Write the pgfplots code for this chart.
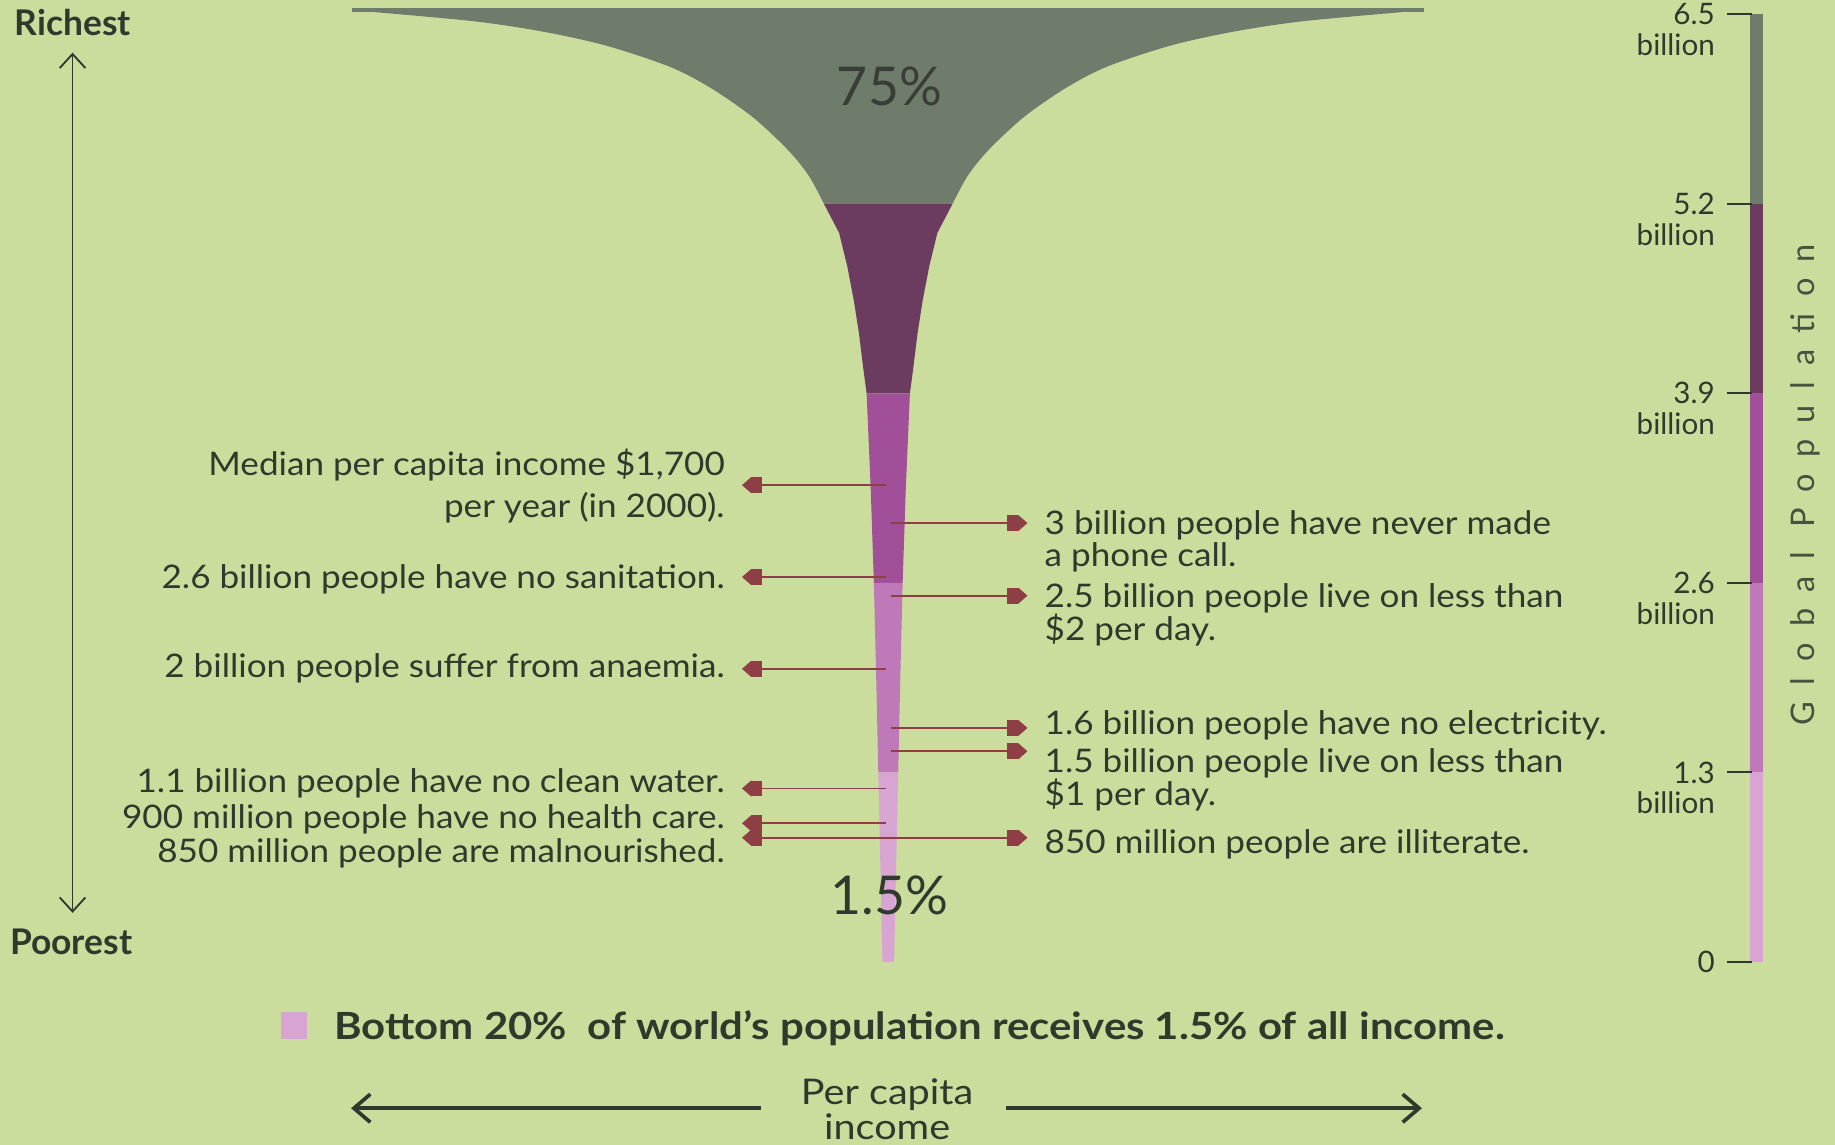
\documentclass[border=0pt]{standalone}
\usepackage{fontspec}
\setmainfont{Lato}
\newfontfamily\labfont[FakeStretch=1.08]{Lato}
\newfontfamily\bigfont[FakeStretch=1.12]{Lato}
\usepackage{pgfplots}
\pgfplotsset{compat=1.18}
\usepgfplotslibrary{fillbetween}
\usetikzlibrary{arrows.meta}
\definecolor{bg}{HTML}{CBDD9D}
\definecolor{cA}{HTML}{6F7B6B}
\definecolor{cB}{HTML}{6B3C60}
\definecolor{cC}{HTML}{A04F98}
\definecolor{cD}{HTML}{C079B8}
\definecolor{cE}{HTML}{D8A4D2}
\definecolor{txt}{HTML}{2E3A2C}
\definecolor{arr}{HTML}{8E3E45}
\tikzset{
  lab/.style={font=\labfont\fontsize{7.9}{8}\selectfont, text=txt, inner sep=0pt},
  ax/.style={font=\fontsize{7.2}{8}\selectfont, text=txt, inner sep=0pt},
  house/.style={draw=arr, line width=0.45pt, -{Square[length=0.95mm,width=1.35mm,sep=0pt]Triangle[length=0.8mm,width=1.35mm]}},
  house2/.style={draw=arr, line width=0.45pt, {Triangle[length=0.8mm,width=1.35mm,sep=0pt]Square[length=0.95mm,width=1.35mm]}-{Square[length=0.95mm,width=1.35mm,sep=0pt]Triangle[length=0.8mm,width=1.35mm]}},
}
\begin{document}
\begin{tikzpicture}
\begin{axis}[
  width=156.8mm, height=97.8mm, scale only axis,
  xmin=0, xmax=1568, ymin=-1.252, ymax=6.597,
  axis line style={draw=none}, xtick=\empty, ytick=\empty,
  axis background/.style={fill=bg},
  clip=false,
]
\coordinate (bl) at (rel axis cs:0,0);
\coordinate (tr) at (rel axis cs:1,1);
% richest 20%: 75% of income (population 5.2 to 6.5 billion)
\addplot[name path=L, draw=none, smooth] coordinates {
 (301,6.527) (403,6.453) (464,6.380) (518,6.284) (572,6.140) (607,5.995)
 (643,5.795) (673,5.571) (691,5.393) (704,5.2)};
\addplot[name path=R, draw=none, smooth] coordinates {
 (814,5.2) (827,5.393) (845,5.571) (875,5.795) (911,5.995) (946,6.140)
 (1000,6.284) (1054,6.380) (1115,6.453) (1217,6.527)};
\addplot[fill=cA, draw=none] fill between[of=L and R, reverse=false];
\addplot[fill=cA, draw=none] coordinates {(301,6.512) (1217,6.512) (1217,6.541) (301,6.541)} --cycle;
% 3.9 to 5.2 billion
\addplot[fill=cB, draw=none] coordinates {
 (704,5.2) (814,5.2) (801,5.0) (794,4.77) (788.5,4.54) (784,4.31) (780.5,4.08) (777.5,3.9)
 (740.5,3.9) (737.5,4.08) (734,4.31) (729.5,4.54) (724,4.77) (717,5.0)} --cycle;
% 2.6 to 3.9 billion
\addplot[fill=cC, draw=none] coordinates {
 (740.5,3.9) (777.5,3.9) (774,3.25) (771.3,2.6) (746.7,2.6) (744,3.25)} --cycle;
% 1.3 to 2.6 billion
\addplot[fill=cD, draw=none] coordinates {
 (746.7,2.6) (771.3,2.6) (769.3,1.95) (767.5,1.3) (750.5,1.3) (748.7,1.95)} --cycle;
% poorest 20%: 1.5% of income
\addplot[fill=cE, draw=none] coordinates {
 (750.5,1.3) (767.5,1.3) (765.7,0.65) (764,0) (754,0) (752.3,0.65)} --cycle;

% left annotations
\addplot[house] coordinates {(757,3.27) (634,3.27)};
\addplot[house] coordinates {(757,2.64) (634,2.64)};
\addplot[house] coordinates {(757,2.01) (634,2.01)};
\addplot[house] coordinates {(757,1.19) (634,1.19)};
\addplot[house] coordinates {(757,0.951) (634,0.951)};
\addplot[house2] coordinates {(634,0.852) (878,0.852)};
% right annotations
\addplot[house] coordinates {(761,3.01) (878,3.01)};
\addplot[house] coordinates {(761,2.512) (878,2.512)};
\addplot[house] coordinates {(761,1.605) (878,1.605)};
\addplot[house] coordinates {(761,1.445) (878,1.445)};

\node[lab, anchor=base east] at (axis cs:620,3.339) {Median per capita income \$1,700};
\node[lab, anchor=base east] at (axis cs:620,3.050) {per year (in 2000).};
\node[lab, anchor=base east] at (axis cs:620,2.560) {2.6 billion people have no sanitation.};
\node[lab, anchor=base east] at (axis cs:620,1.950) {2 billion people suffer from anaemia.};
\node[lab, anchor=base east] at (axis cs:620,1.164) {1.1 billion people have no clean water.};
\node[lab, anchor=base east] at (axis cs:620,0.915) {900 million people have no health care.};
\node[lab, anchor=base east] at (axis cs:620,0.682) {850 million people are malnourished.};

\node[lab, anchor=base west] at (axis cs:892,2.929) {3 billion people have never made};
\node[lab, anchor=base west] at (axis cs:892,2.713) {a phone call.};
\node[lab, anchor=base west] at (axis cs:892,2.432) {2.5 billion people live on less than};
\node[lab, anchor=base west] at (axis cs:892,2.207) {\$2 per day.};
\node[lab, anchor=base west] at (axis cs:892,1.557) {1.6 billion people have no electricity.};
\node[lab, anchor=base west] at (axis cs:892,1.300) {1.5 billion people live on less than};
\node[lab, anchor=base west] at (axis cs:892,1.075) {\$1 per day.};
\node[lab, anchor=base west] at (axis cs:892,0.746) {850 million people are illiterate.};

% shares
\node[font=\fontsize{13}{14}\selectfont, text=cA!50!black, anchor=base, inner sep=0pt] at (axis cs:760,5.875) {75\%};
\node[font=\fontsize{13}{14}\selectfont, text=txt, anchor=base, inner sep=0pt] at (axis cs:760,0.329) {1.5\%};

% richest / poorest
\node[font=\fontsize{8.6}{9}\selectfont\bfseries, text=txt, anchor=base west, inner sep=0pt] at (axis cs:12,6.356) {Richest};
\node[font=\fontsize{8.6}{9}\selectfont\bfseries, text=txt, anchor=base west, inner sep=0pt] at (axis cs:8,0.048) {Poorest};
\addplot[draw=txt, line width=0.45pt, {Straight Barb[length=1.2mm,width=2.2mm]}-{Straight Barb[length=1.2mm,width=2.2mm]}] coordinates {(62,6.236) (62,0.337)};

% global population axis
\addplot[draw=cA, line width=1.05mm] coordinates {(1501,6.5) (1501,5.2)};
\addplot[draw=cB, line width=1.05mm] coordinates {(1501,5.2) (1501,3.9)};
\addplot[draw=cC, line width=1.05mm] coordinates {(1501,3.9) (1501,2.6)};
\addplot[draw=cD, line width=1.05mm] coordinates {(1501,2.6) (1501,1.3)};
\addplot[draw=cE, line width=1.05mm] coordinates {(1501,1.3) (1501,0)};
\pgfplotsinvokeforeach{0,1.3,2.6,3.9,5.2,6.5}{
  \addplot[draw=txt, line width=0.5pt] coordinates {(1476,#1) (1497,#1)};
}
\node[ax, anchor=east] at (axis cs:1466,6.5) {6.5};
\node[ax, anchor=east] at (axis cs:1466,6.29) {billion};
\node[ax, anchor=east] at (axis cs:1466,5.2) {5.2};
\node[ax, anchor=east] at (axis cs:1466,4.99) {billion};
\node[ax, anchor=east] at (axis cs:1466,3.9) {3.9};
\node[ax, anchor=east] at (axis cs:1466,3.69) {billion};
\node[ax, anchor=east] at (axis cs:1466,2.6) {2.6};
\node[ax, anchor=east] at (axis cs:1466,2.39) {billion};
\node[ax, anchor=east] at (axis cs:1466,1.3) {1.3};
\node[ax, anchor=east] at (axis cs:1466,1.09) {billion};
\node[ax, anchor=east] at (axis cs:1466,0) {0};
\node[font=\fontsize{7.9}{8}\selectfont\addfontfeature{LetterSpace=50}, text=txt!85!bg, rotate=90, inner sep=0pt] at (axis cs:1543,3.274) {Global Population};

% legend
\addplot[fill=cE, draw=none] coordinates {(240,-0.345) (262,-0.345) (262,-0.530) (240,-0.530)} --cycle;
\node[font=\bigfont\fontsize{9.1}{10}\selectfont\bfseries, text=txt, anchor=base west, inner sep=0pt] at (axis cs:285,-0.530) {Bottom 20\%\ \ of world’s population receives 1.5\% of all income.};

% per capita income
\node[font=\bigfont\fontsize{8.6}{9}\selectfont, text=txt, inner sep=0pt, anchor=base] at (axis cs:758,-0.979) {Per capita};
\node[font=\bigfont\fontsize{8.6}{9}\selectfont, text=txt, inner sep=0pt, anchor=base] at (axis cs:758,-1.220) {income};
\addplot[draw=txt, line width=0.9pt, -{Straight Barb[length=1.4mm,width=2.4mm]}] coordinates {(650,-1.003) (300,-1.003)};
\addplot[draw=txt, line width=0.9pt, -{Straight Barb[length=1.4mm,width=2.4mm]}] coordinates {(860,-1.003) (1215,-1.003)};
\end{axis}
\pgfresetboundingbox
\path (bl) rectangle (tr);
\end{tikzpicture}
\end{document}
